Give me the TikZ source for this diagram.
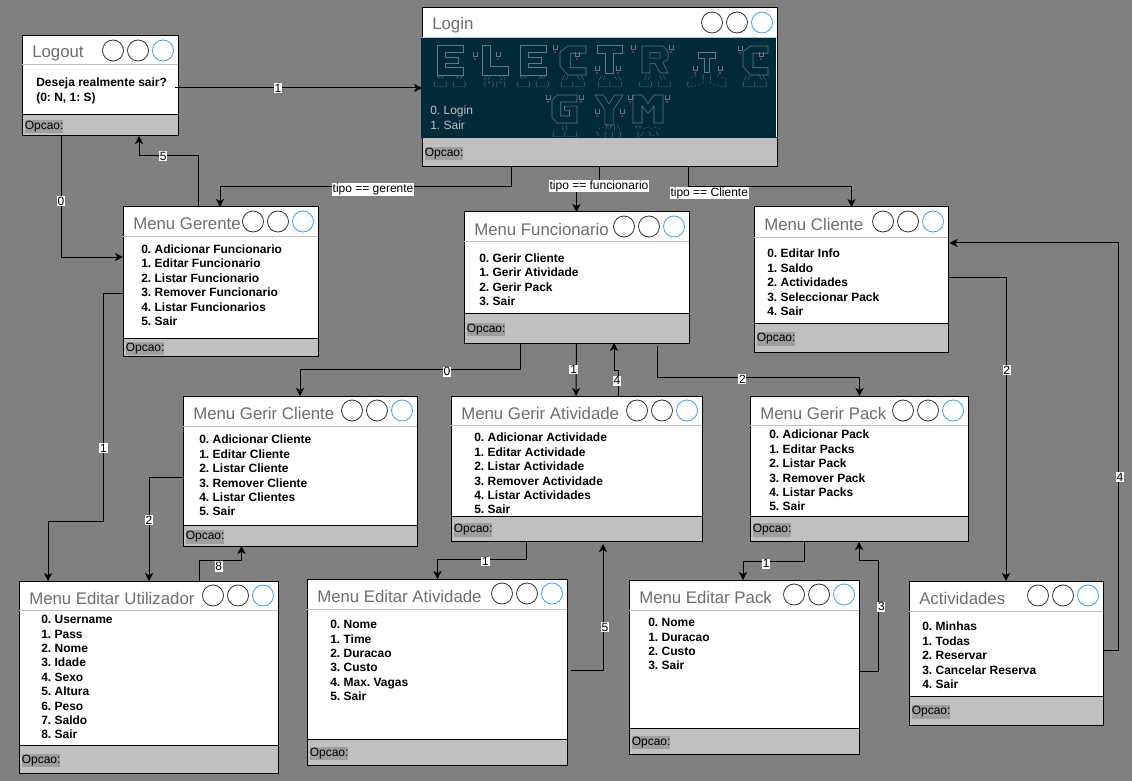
\documentclass[tikz,border=0pt]{standalone}
\usepackage{fontspec}
\setmainfont{Liberation Sans}
\newfontfamily\artfont{Liberation Mono}
\usetikzlibrary{arrows.meta,positioning,fit,calc}
\definecolor{wingray}{HTML}{808080}
\definecolor{winfoot}{HTML}{C0C0C0}
\definecolor{winmark}{HTML}{9E9E9E}
\definecolor{wintitle}{HTML}{6E6E6E}
\definecolor{winblue}{HTML}{3D9BFF}
\definecolor{artdark}{HTML}{022B3A}
\definecolor{artline}{HTML}{64787F}
\definecolor{artred}{HTML}{E0242F}
\tikzset{
  winbox/.style={draw=black,fill=white,line width=0.75pt,inner sep=0pt,outer sep=0pt},
  footbox/.style={winbox,fill=winfoot},
  divider/.style={draw=winfoot,line width=0.75pt},
  title/.style={anchor=west,inner sep=0pt,text=wintitle,font=\fontsize{12.6}{15}\selectfont},
  items/.style={anchor=north west,inner sep=0pt,yshift=-1.5pt,align=left,font=\bfseries\fontsize{9}{10.8}\selectfont},
  opcao/.style={anchor=west,inner sep=0pt,yshift=-1pt,fill=winmark,minimum height=10pt,font=\fontsize{9}{10.8}\selectfont},
  btn/.style={circle,draw=black!80,line width=0.6pt,minimum size=15.75pt,inner sep=0pt},
  ar/.style={-{Stealth[length=6pt,width=6pt,inset=1.6pt]},draw=black,line width=0.75pt},
  lab/.style={fill=white,inner sep=0.6pt,font=\fontsize{9}{10}\selectfont},
  art/.style={draw=artline,line width=0.4pt},
  artfeet/.style={inner sep=0pt,text=artline,font=\artfont\fontsize{4.7}{5}\selectfont},
}
\newcommand{\menuwin}[8]{%
  \node[winbox,fit={(#3,#4) (#5,#6)}] (#1) {};
  \node[footbox,fit={(#3,#8) (#5,#6)}] (#1foot) {};
  \draw[divider] (#1.west |- 0,#7) -- (#1.east |- 0,#7);
  \node[title] (#1title) at ($(#1.north west)+(10,17)$) {#2};
  \node[btn] (#1a) at ($(#1.north east)+(-65,14.5)$) {};
  \node[btn] (#1b) at ($(#1.north east)+(-40,14.5)$) {};
  \node[btn,draw=winblue] (#1c) at ($(#1.north east)+(-15,14.5)$) {};
  \node[opcao] (#1opt) at ($(#1foot.west)+(2.5,0)$) {Opcao:};
}
\newcommand{\artletter}[5]{%
  \begin{scope}[shift={(#1,#2)},x=#3*0.075pt,y=-#4*0.075pt]
    \draw[art] #5;
  \end{scope}
}
\newcommand{\letE}{(0,0) -- (10,0) -- (10,2.5) -- (3,2.5) -- (3,4) -- (8,4) -- (8,6) -- (3,6) -- (3,7.5) -- (10,7.5) -- (10,10) -- (0,10) -- cycle}
\newcommand{\letL}{(0,0) -- (3,0) -- (3,7) -- (10,7) -- (10,10) -- (0,10) -- cycle}
\newcommand{\letC}{(3,0) -- (10,0) -- (10,2.5) -- (4,2.5) -- (4,7.5) -- (10,7.5) -- (10,10) -- (3,10) -- (0,7) -- (0,2) -- cycle}
\newcommand{\letT}{(0,0) -- (10,0) -- (10,3) -- (6.5,3) -- (6.5,10) -- (3.5,10) -- (3.5,3) -- (0,3) -- cycle}
\newcommand{\letR}{(0,0) -- (8,0) -- (10,2) -- (10,5) -- (8,6) -- (10,10) -- (7,10) -- (5,6.5) -- (3,6.5) -- (3,10) -- (0,10) -- cycle (3,2.5) -- (7,2.5) -- (7,4.5) -- (3,4.5) -- cycle}
\newcommand{\letG}{(2,0) -- (10,0) -- (10,2.5) -- (3.5,2.5) -- (3.5,7.5) -- (7,7.5) -- (7,5.5) -- (5,5.5) -- (5,4) -- (10,4) -- (10,10) -- (2,10) -- (0,8) -- (0,2) -- cycle}
\newcommand{\letY}{(0,0) -- (3,0) -- (5,3) -- (7,0) -- (10,0) -- (6.5,5) -- (6.5,10) -- (3.5,10) -- (3.5,5) -- cycle}
\newcommand{\letM}{(0,0) -- (3,0) -- (5,3) -- (7,0) -- (10,0) -- (10,10) -- (7,10) -- (7,4) -- (5,6.5) -- (3,4) -- (3,10) -- (0,10) -- cycle}

\begin{document}
\frenchspacing
\begin{tikzpicture}[x=0.75pt,y=-0.75pt]
  \useasboundingbox (0,0) rectangle (1132,781);
  \fill[wingray] (0,0) rectangle (1132,781);

  \menuwin{logout}{Logout}{22}{36}{178}{136}{65}{115}
  \menuwin{login}{Login}{422}{8}{777}{167}{38}{138}
  \menuwin{gerente}{Menu Gerente}{123}{207}{318}{356}{237}{338}
  \menuwin{funcionario}{Menu Funcionario}{464}{212}{689}{343}{242}{313}
  \menuwin{cliente}{Menu Cliente}{754}{207}{948}{352}{238}{323}
  \menuwin{gerircliente}{Menu Gerir Cliente}{183}{396}{417}{546}{426}{525}
  \menuwin{geriratividade}{Menu Gerir Atividade}{451}{396}{702}{541}{425}{516}
  \menuwin{gerirpack}{Menu Gerir Pack}{750}{396}{968}{541}{425}{516}
  \menuwin{editarutil}{Menu Editar Utilizador}{19}{581}{278}{773}{610}{745}
  \menuwin{editaratividade}{Menu Editar Atividade}{307}{579}{567}{765}{609}{739}
  \menuwin{editarpack}{Menu Editar Pack}{629}{580}{859}{754}{610}{728}
  \menuwin{actividades}{Actividades}{909}{581}{1103}{725}{611}{696}

  \node[fill=artdark,inner sep=0pt,fit={(421,38) (776,138)}] (loginart) {};
  \node[items,font=\fontsize{9}{10.8}\selectfont,text=winfoot] (loginitems) at (430,104) {0. Login\\1. Sair};
  \artletter{437}{45}{26}{30}{\letE}
  \artletter{482}{45}{26}{30}{\letL}
  \artletter{520}{45}{26}{30}{\letE}
  \artletter{560}{46}{26}{29}{\letC}
  \artletter{597}{45}{25}{28}{\letT}
  \artletter{642}{46}{26}{27}{\letR}
  \artletter{698}{52}{17}{20}{\letT}
  \artletter{743}{46}{25}{29}{\letC}
  \artletter{552}{95}{25}{28}{\letG}
  \artletter{595}{95}{28}{30}{\letY}
  \artletter{633}{95}{30}{28}{\letM}
  \foreach \mx/\my in {475/59,498/59,555/52,577/59,597/73,618/73,633/52,671/52,695/73,720/73,740/53,761/59,548/102,581/102,597/116,622/116,630/102,667/102}{
    \draw[art] (\mx-2,\my-7) -- (\mx-2,\my-3) -- (\mx+2,\my-3) -- (\mx+2,\my-7);
    \fill[artred] (\mx,\my) circle (1.2);
  }
  \node[artfeet] (feeta) at (450,78) {<<~~~>>};
  \node[artfeet] (feetb) at (450,85) {(\_\_)~(\_\_)};
  \node[artfeet] (feetc) at (495,78) {//~~\textbackslash\textbackslash};
  \node[artfeet] (feetd) at (495,85) {(")(")};
  \node[artfeet] (feete) at (533,78) {<<~~~>>};
  \node[artfeet] (feetf) at (533,85) {(\_\_)~(\_\_)};
  \node[artfeet] (feetg) at (573,78) {//~~\textbackslash\textbackslash};
  \node[artfeet] (feeth) at (573,85) {(\_\_|\_\_)};
  \node[artfeet] (feeti) at (610,78) {//~~\textbackslash\textbackslash};
  \node[artfeet] (feetj) at (610,85) {(\_\_|\_\_)};
  \node[artfeet] (feetk) at (655,78) {//~~\textbackslash\textbackslash};
  \node[artfeet] (feetl) at (655,85) {(\_\_)~(\_\_)};
  \node[artfeet] (feetm) at (707,78) {.-'~|~|~'-.};
  \node[artfeet] (feetn) at (707,85) {(\_.-'~'-.\_)};
  \node[artfeet] (feeto) at (755,78) {//~~\textbackslash\textbackslash};
  \node[artfeet] (feetp) at (755,85) {(\_\_|\_\_)};
  \node[artfeet] (feetq) at (565,128) {||};
  \node[artfeet] (feetr) at (565,135) {(\_\_|\_\_)};
  \node[artfeet] (feets) at (609,128) {.-//|\textbackslash};
  \node[artfeet] (feett) at (609,135) {\textbackslash~|~|~)};
  \node[artfeet] (feetu) at (648,128) {<<.-.-.};
  \node[artfeet] (feetv) at (648,135) {(/~\textbackslash.\textbackslash};

  \node[items] (logoutitems) at (36,76) {Deseja realmente sair?\\(0: N, 1: S)};
  \node[items] (gerenteitems) at (141,242.5) {0. Adicionar Funcionario\\1. Editar Funcionario\\2. Listar Funcionario\\3. Remover Funcionario\\4. Listar Funcionarios\\5. Sair};
  \node[items] (funcionarioitems) at (479,251.5) {0. Gerir Cliente\\1. Gerir Atividade\\2. Gerir Pack\\3. Sair};
  \node[items] (clienteitems) at (767,247) {0. Editar Info\\1. Saldo\\2. Actividades\\3. Seleccionar Pack\\4. Sair};
  \node[items] (gerirclienteitems) at (199,433) {0. Adicionar Cliente\\1. Editar Cliente\\2. Listar Cliente\\3. Remover Cliente\\4. Listar Clientes\\5. Sair};
  \node[items] (geriratividadeitems) at (474,431) {0. Adicionar Actividade\\1. Editar Actividade\\2. Listar Actividade\\3. Remover Actividade\\4. Listar Actividades\\5. Sair};
  \node[items] (gerirpackitems) at (769,428) {0. Adicionar Pack\\1. Editar Packs\\2. Listar Pack\\3. Remover Pack\\4. Listar Packs\\5. Sair};
  \node[items] (editarutilitems) at (41,613) {0. Username\\1. Pass\\2. Nome\\3. Idade\\4. Sexo\\5. Altura\\6. Peso\\7. Saldo\\8. Sair};
  \node[items] (editaratividadeitems) at (330,618) {0. Nome\\1. Time\\2. Duracao\\3. Custo\\4. Max. Vagas\\5. Sair};
  \node[items] (editarpackitems) at (648,616) {0. Nome\\1. Duracao\\2. Custo\\3. Sair};
  \node[items] (actividadesitems) at (922,620) {0. Minhas\\1. Todas\\2. Reservar\\3. Cancelar Reserva\\4. Sair};

  \draw[ar] ($(logout.north east)+(-3,52)$) -- node[lab,pos=.417]{1} ($(login.north west)+(0,80)$);
  \draw[ar] ($(login.south west)+(89,0)$) -- ++(0,20) -| node[lab,pos=.237,yshift=-2pt]{tipo == gerente} ($(gerente.north west)+(97,0)$);
  \draw[ar] ($(login.south west)+(177,0)$) -- ++(0,18) node[lab,yshift=-.7pt]{tipo == funcionario} -| (funcionario.north);
  \draw[ar] ($(login.south west)+(266,0)$) -- ++(0,20) -| node[lab,pos=.065,yshift=-4.5pt]{tipo == Cliente} ($(cliente.north west)+(97.5,0)$);
  \draw[ar] ($(logout.south west)+(39,0)$) |- node[lab,pos=.27]{0} ($(gerente.north west)+(0,50)$);
  \draw[ar] ($(gerente.north west)+(75,0)$) -- ++(0,-51) -- node[lab,pos=.59]{5} ++(-59,0) -- ($(logout.south west)+(117,0)$);
  \draw[ar] ($(gerente.north west)+(0,86)$) -- ++(-19.5,0) -- node[lab,pos=.68]{1} ++(0,228) -| ($(editarutil.north west)+(29,0)$);
  \draw[ar] ($(funcionario.south west)+(56,0)$) -- ++(0,26) -| node[lab,pos=.166,yshift=-2pt]{0} ($(gerircliente.north west)+(117,0)$);
  \draw[ar] (funcionario.south -| geriratividade.north) -- node[lab,pos=.5,xshift=-2pt]{1} ($(geriratividade.north west)+(125,0)$);
  \draw[ar] ($(geriratividade.north west)+(167,0)$) -- ++(0,-26) -- ++(-4,0) node[lab,pos=0,yshift=-8pt,xshift=-.7pt]{4} -- ($(funcionario.south west)+(150,0)$);
  \draw[ar] ($(funcionario.south west)+(193.5,3)$) -- ++(0,31) -| node[lab,pos=.21,yshift=-1.5pt]{2} ($(gerirpack.north west)+(109.5,0)$);
  \draw[ar] ($(gerircliente.north west)+(0,81)$) -| node[lab,pos=.707]{2} ($(editarutil.north west)+(130,0)$);
  \draw[ar] ($(editarutil.north west)+(180.5,0)$) -- ++(0,-20.5) -| node[lab,pos=.23,yshift=-4.5pt]{8} ($(gerircliente.south west)+(58.5,0)$);
  \draw[ar] ($(geriratividade.south west)+(75.5,0)$) -- ++(0,18.5) -| node[lab,pos=.23,yshift=-1.5pt]{1} ($(editaratividade.north west)+(130.5,0)$);
  \draw[ar] ($(editaratividade.south east)+(4,-95)$) -| node[lab,pos=.67,xshift=1.5pt]{5} ($(geriratividade.south west)+(152,3)$);
  \draw[ar] ($(gerirpack.south west)+(54,0)$) -- ++(0,20) -| node[lab,pos=.31,yshift=-2pt]{1} ($(editarpack.north west)+(114,0)$);
  \draw[ar] ($(editarpack.south east)+(1,-83)$) -- ++(18,0) -- node[lab,pos=.58,xshift=2.5pt]{3} ++(0,-111) -- ++(-19,0) -- ($(gerirpack.south west)+(109,1)$);
  \draw[ar] ($(cliente.north east)+(0,70)$) -| node[lab,pos=.653,xshift=.5pt]{2} ($(actividades.north west)+(97,0)$);
  \draw[ar] ($(actividades.north east)+(0,69)$) -- ++(15,0) -- node[lab,pos=.425,xshift=1.5pt]{4} ++(0,-407) -- ($(cliente.north east)+(1.5,36)$);
\end{tikzpicture}
\end{document}
